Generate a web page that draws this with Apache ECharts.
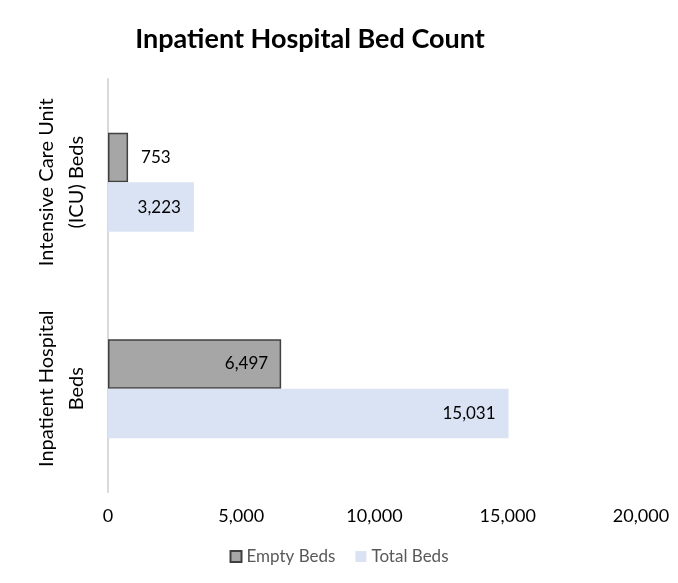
<!DOCTYPE html>
<html>
<head>
<meta charset="utf-8">
<script src="https://cdn.jsdelivr.net/npm/echarts@6/dist/echarts.min.js"></script>
<style>
  html, body { margin: 0; padding: 0; background: #fff; }
  #chart { width: 678px; height: 583px; }
</style>
</head>
<body>
<div id="chart"></div>
<script>
// categories, bottom to top
const categories = ['Inpatient Hospital\nBeds', 'Intensive Care Unit\n(ICU) Beds']
const emptyBeds = [6497, 753]
const totalBeds = [15031, 3223]
const xTicks = [0, 5000, 10000, 15000, 20000]

const chart = echarts.init(document.getElementById('chart'))
const fmt = v => v.toLocaleString('en-US')
const font = "Lato, 'Open Sans', sans-serif"

const option = {
    animation: false,
    title: {
        text: 'Inpatient Hospital Bed Count',
        left: 305,
        textAlign: 'center',
        top: 21,
        textStyle: {
            fontFamily: font,
            fontSize: 27,
            fontWeight: 'bold',
            color: '#000'
        }
    },
    legend: {
        bottom: 13,
        left: 'center',
        icon: 'rect',
        itemWidth: 11,
        itemHeight: 11,
        itemGap: 20,
        textStyle: { fontFamily: font, fontSize: 17, color: '#595959' },
        data: ['Empty Beds', 'Total Beds']
    },
    grid: {
        left: 108,
        right: 37,
        top: 79,
        bottom: 91,
        containLabel: false
    },
    xAxis: {
        type: 'value',
        min: xTicks[0],
        max: xTicks[xTicks.length - 1],
        interval: 5000,
        axisLine: { show: false },
        axisTick: { show: false },
        splitLine: { show: false },
        axisLabel: {
            fontFamily: font,
            fontSize: 18,
            color: '#000',
            margin: 15,
            formatter: v => fmt(v)
        }
    },
    yAxis: {
        type: 'category',
        data: categories,
        axisLine: { show: true, lineStyle: { color: '#d9d9d9', width: 2 } },
        axisTick: { show: false },
        axisLabel: {
            interval: 0,
            rotate: 90,
            fontFamily: font,
            fontSize: 20,
            lineHeight: 30,
            color: '#000',
            margin: 16,
            align: 'center'
        }
    },
    series: [
        {
            name: 'Empty Beds',
            type: 'bar',
            data: emptyBeds,
            barGap: '0%',
            barCategoryGap: '52%',
            itemStyle: { color: '#a6a6a6', borderColor: '#404040', borderWidth: 1.5 },
            label: {
                show: true,
                fontFamily: font,
                fontSize: 17,
                color: '#000',
                formatter: p => fmt(p.value),
                position: 'insideRight',
                distance: 13
            }
        },
        {
            name: 'Total Beds',
            type: 'bar',
            data: totalBeds,
            itemStyle: { color: '#dae3f3' },
            label: {
                show: true,
                fontFamily: font,
                fontSize: 17,
                color: '#000',
                formatter: p => fmt(p.value),
                position: 'insideRight',
                distance: 13
            }
        }
    ]
}
// the small ICU value sits outside its bar
option.series[0].data = emptyBeds.map(v => v < 2000
    ? { value: v, label: { position: 'right', distance: 13 } }
    : v)

chart.setOption(option)
</script>
</body>
</html>
